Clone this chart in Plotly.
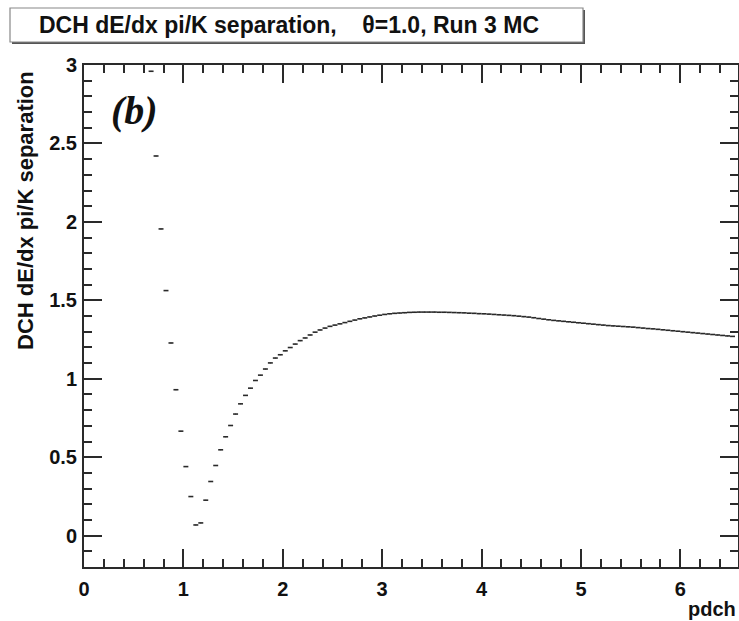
import numpy as np
import plotly.graph_objects as go

# pi/K separation per momentum bin (bin width 0.05 GeV/c, first bin centred at 0.675)
separation = [
    2.96, 2.42, 1.955, 1.562, 1.228, 0.930, 0.666, 0.440, 0.249, 0.068,
    0.081, 0.226, 0.345, 0.447, 0.547, 0.630, 0.702, 0.775, 0.840, 0.894,
    0.940, 0.989, 1.023, 1.062, 1.101, 1.132, 1.153, 1.178, 1.199, 1.221,
    1.243, 1.260, 1.279, 1.297, 1.311, 1.323, 1.334, 1.342, 1.350, 1.358,
    1.366, 1.374, 1.382, 1.388, 1.394, 1.400, 1.405, 1.410, 1.414, 1.417,
    1.419, 1.421, 1.423, 1.424, 1.425, 1.425, 1.425, 1.425, 1.424, 1.424,
    1.423, 1.422, 1.421, 1.420, 1.418, 1.417, 1.415, 1.414, 1.412, 1.410,
    1.408, 1.406, 1.404, 1.402, 1.399, 1.396, 1.393, 1.389, 1.384, 1.380,
    1.376, 1.372, 1.369, 1.366, 1.363, 1.360, 1.357, 1.354, 1.351, 1.348,
    1.345, 1.342, 1.339, 1.337, 1.335, 1.333, 1.331, 1.329, 1.326, 1.323,
    1.320, 1.318, 1.315, 1.312, 1.309, 1.306, 1.303, 1.300, 1.297, 1.294,
    1.291, 1.288, 1.285, 1.282, 1.279, 1.276, 1.273, 1.270,
]
first_bin_center = 0.675
bin_width = 0.05
p_bins = np.round(first_bin_center + bin_width * np.arange(len(separation)), 4)

title_text = "DCH dE/dx pi/K separation,    \u03b8=1.0, Run 3 MC"
y_title = "DCH dE/dx pi/K separation"
x_title = "pdch"
panel_label = "(b)"

W, H = 739, 621
L, R, T, B = 84, 1, 65, 54
PW, PH = W - L - R, H - T - B


def px(xp):
    return (xp - L) / PW


def py(yp):
    return (H - B - yp) / PH


ink = "#2a2a2a"
sans = "Liberation Sans, Arial, Helvetica, sans-serif"

fig = go.Figure()
fig.add_trace(go.Scatter(
    x=p_bins, y=separation, mode="markers",
    marker=dict(size=1, color=ink),
    error_x=dict(type="constant", value=bin_width / 2, width=0,
                 thickness=1.6, color=ink),
    showlegend=False, hoverinfo="x+y",
))

axis_common = dict(
    showline=True, linecolor=ink, linewidth=2, mirror="allticks",
    ticks="inside", ticklen=18, tickwidth=1.5, tickcolor=ink,
    showgrid=False, zeroline=False,
    tickfont=dict(family=sans, size=20, color="#111", weight="bold"),
)

fig.update_layout(
    width=W, height=H,
    margin=dict(l=L, r=R, t=T, b=B, autoexpand=False),
    paper_bgcolor="white", plot_bgcolor="white",
    xaxis=dict(range=[0, 6.58], tick0=0, dtick=1,
               minor=dict(dtick=0.2, ticklen=8, ticks="inside", tickcolor=ink, tickwidth=1.5),
               ticklabelstandoff=3, **axis_common),
    yaxis=dict(range=[-0.2, 3.0], tick0=0, dtick=0.5,
               minor=dict(dtick=0.1, ticklen=8, ticks="inside", tickcolor=ink, tickwidth=1.5),
               ticklabelstandoff=1, **axis_common),
)

# title box with shadow
fig.add_shape(type="rect", xref="paper", yref="paper",
              x0=px(12), x1=px(585), y0=py(44), y1=py(10),
              fillcolor="#555", line=dict(width=0), layer="above")
fig.add_shape(type="rect", xref="paper", yref="paper",
              x0=px(10), x1=px(583), y0=py(42), y1=py(8),
              fillcolor="white", line=dict(color="#888", width=1.2), layer="above")
fig.add_annotation(text=title_text, xref="paper", yref="paper",
                   x=px(289), y=py(25), xanchor="center", yanchor="middle",
                   showarrow=False,
                   font=dict(family=sans, size=23, color="#111", weight="bold"))

fig.add_annotation(text=y_title, xref="paper", yref="paper",
                   x=px(26), y=py(211), xanchor="center", yanchor="middle",
                   textangle=-90, showarrow=False,
                   font=dict(family=sans, size=22, color="#111", weight="bold"))
fig.add_annotation(text=x_title, xref="paper", yref="paper",
                   x=px(738), y=py(609), xanchor="right", yanchor="middle",
                   showarrow=False,
                   font=dict(family=sans, size=20, color="#111", weight="bold"))
fig.add_annotation(text=panel_label, xref="paper", yref="paper",
                   x=px(134), y=py(110), xanchor="center", yanchor="middle",
                   showarrow=False,
                   font=dict(family="Liberation Serif, Times New Roman, serif",
                             size=40, color="#111", weight="bold", style="italic"))

fig.write_html("out.html", config={"displayModeBar": False},
               post_script="document.body.style.margin='0';")
